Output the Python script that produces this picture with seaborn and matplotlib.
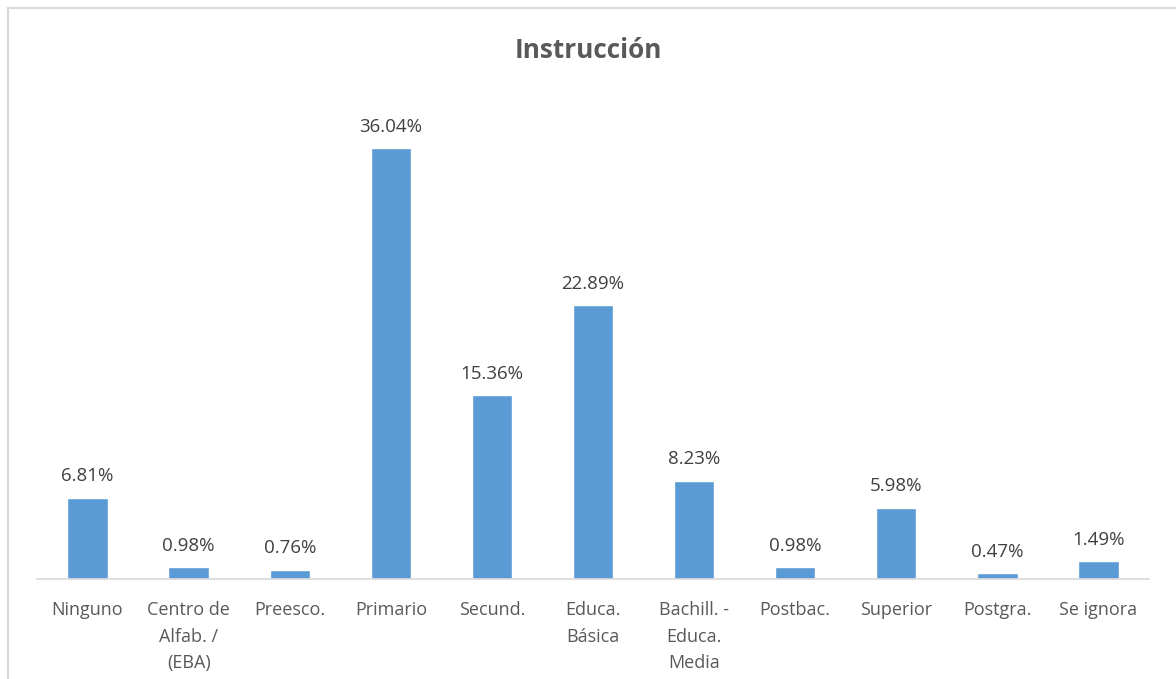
import matplotlib
matplotlib.use("Agg")
import matplotlib.pyplot as plt
from matplotlib.lines import Line2D
import seaborn as sns
import pandas as pd

categories = ["Ninguno", "Centro de\nAlfab. /\n(EBA)", "Preesco.", "Primario", "Secund.",
              "Educa.\nBásica", "Bachill. -\nEduca.\nMedia", "Postbac.", "Superior",
              "Postgra.", "Se ignora"]
values = [6.81, 0.98, 0.76, 36.04, 15.36, 22.89, 8.23, 0.98, 5.98, 0.47, 1.49]
title = "Instrucción"

sns.set_theme(style="white")
plt.rcParams['font.family'] = ['Open Sans', 'DejaVu Sans']

df = pd.DataFrame({"cat": categories, "val": values})
W, H = 1176, 679
fig = plt.figure(figsize=(W/100, H/100), dpi=100)
ax = fig.add_axes([37/W, 1 - 579/H, (1149-37)/W, (579-101)/H])
sns.barplot(data=df, x="cat", y="val", color="#5B9BD5", width=0.4, saturation=1, ax=ax)
ax.set_xlim(-0.5, len(categories) - 0.5)
ax.set_ylim(0, 40)
ax.set_xlabel("")
ax.set_ylabel("")
ax.set_yticks([])
for s in ["top", "right", "left"]:
    ax.spines[s].set_visible(False)
ax.spines["bottom"].set_color("#D9D9D9")
ax.spines["bottom"].set_linewidth(1.2)
ax.tick_params(axis="x", length=0, pad=16, labelsize=13, colors="#595959")
for lab in ax.get_xticklabels():
    lab.set_linespacing(1.6)
for i, v in enumerate(values):
    ax.annotate(f"{v:.2f}%", (i, v), xytext=(0, 9), textcoords="offset points",
                ha="center", va="bottom", fontsize=13.5, color="#404040")
fig.text(0.5, 1 - 50/H, title, ha="center", va="center", fontsize=18.8,
         fontweight="bold", color="#595959")
# chart border (left and top visible)
fig.add_artist(Line2D([8/W, 8/W], [0, 1 - 8/H], transform=fig.transFigure, color="#D9D9D9", lw=1.5))
fig.add_artist(Line2D([8/W, 1], [1 - 8/H, 1 - 8/H], transform=fig.transFigure, color="#D9D9D9", lw=1.5))
fig.savefig("out.png", dpi=100)
